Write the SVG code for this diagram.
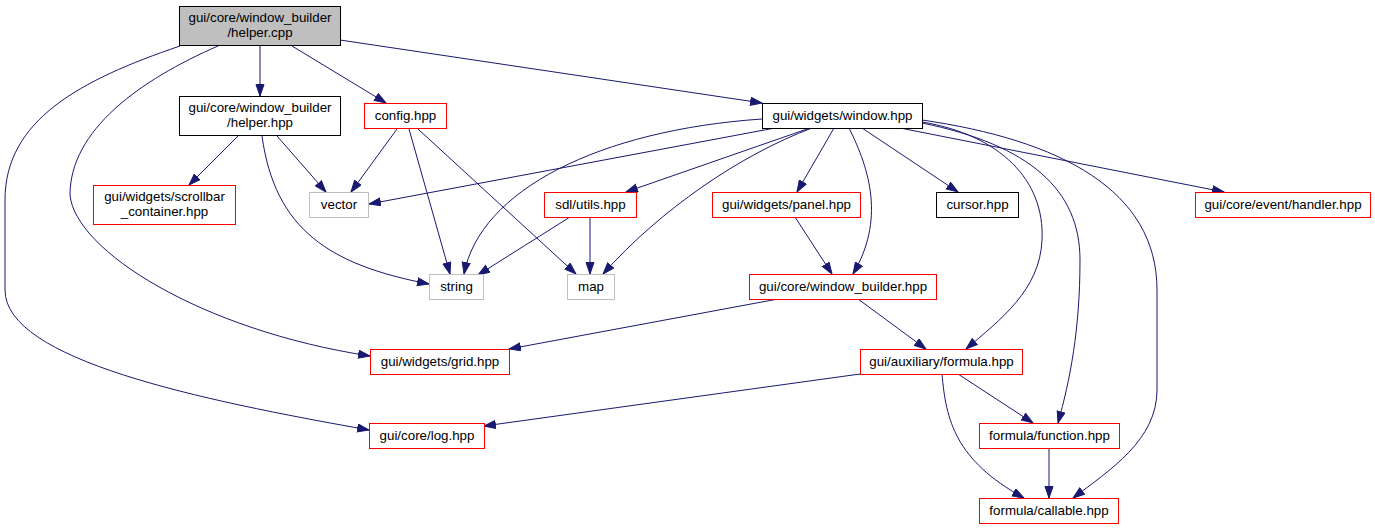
<svg xmlns="http://www.w3.org/2000/svg" width="1375" height="529" viewBox="0 0 1375 529">
<defs>
<marker id="ah" markerUnits="userSpaceOnUse" markerWidth="13" markerHeight="11" refX="12" refY="4.5" orient="auto">
<path d="M0.5,0.5 L12,4.5 L0.5,8.5 z" fill="#191970" stroke="#191970" stroke-width="1"/>
</marker>
</defs>
<style>
.e{fill:none;stroke:#191970;stroke-width:1;marker-end:url(#ah)}
.n rect{fill:#fff;stroke-width:1}
.blk rect{stroke:#000}
.red rect{stroke:#ff0000}
.gry rect{stroke:#bfbfbf}
.cur rect{fill:#bfbfbf;stroke:#000}
text{font-family:"Liberation Sans",Arial,sans-serif;font-size:13.33px;fill:#000;text-anchor:middle}
</style>
<rect width="1375" height="529" fill="#fff"/>
<g id="edges">
<path class="e" d="M260,46 L260,96"/>
<path class="e" d="M292,46 L386,103"/>
<path class="e" d="M340,40 L762,103"/>
<path class="e" d="M218,46 C140,80 70,130 70,195 C75,250 200,330 370,356"/>
<path class="e" d="M180,46 C80,80 5,120 5,200 L5,290 C5,360 200,400 369,430"/>
<path class="e" d="M238,136 L189,185"/>
<path class="e" d="M277,136 L326,192"/>
<path class="e" d="M262,136 C275,230 330,265 429,284"/>
<path class="e" d="M397,129 L351,192"/>
<path class="e" d="M409,129 L450,274"/>
<path class="e" d="M418,129 L576,274"/>
<path class="e" d="M775,128 L369,204"/>
<path class="e" d="M762,119 C600,130 480,190 464,274"/>
<path class="e" d="M810,128 L626,192"/>
<path class="e" d="M812,128 C740,155 660,210 603,274"/>
<path class="e" d="M834,128 L797,192"/>
<path class="e" d="M849,128 C870,170 885,220 853,274"/>
<path class="e" d="M862,128 L958,192"/>
<path class="e" d="M900,128 L1224,192"/>
<path class="e" d="M922,122 C1000,135 1045,180 1042,240 C1040,290 1000,320 966,349"/>
<path class="e" d="M922,123 C1030,145 1080,190 1080,260 C1080,330 1070,380 1058,423"/>
<path class="e" d="M922,120 C1060,140 1157,190 1157,290 L1157,390 C1157,440 1110,470 1073,498"/>
<path class="e" d="M570,217 L478,275"/>
<path class="e" d="M590,217 L590,274"/>
<path class="e" d="M795,217 L832,274"/>
<path class="e" d="M778,299 L509,349"/>
<path class="e" d="M858,299 L926,349"/>
<path class="e" d="M860,374 L484,426"/>
<path class="e" d="M958,374 L1033,423"/>
<path class="e" d="M942,374 C946,420 955,460 1024,498"/>
<path class="e" d="M1049,448 L1049,498"/>
</g>
<g id="helper_cpp" class="n cur"><rect x="179.5" y="6.5" width="161" height="39"/><text x="260" y="22">gui/core/window_builder</text><text x="260" y="37">/helper.cpp</text></g>
<g id="helper_hpp" class="n blk"><rect x="179.5" y="96.5" width="161" height="39"/><text x="260" y="112">gui/core/window_builder</text><text x="260" y="127">/helper.hpp</text></g>
<g id="config_hpp" class="n red"><rect x="364.5" y="103.5" width="82" height="25"/><text x="405.5" y="120">config.hpp</text></g>
<g id="window_hpp" class="n blk"><rect x="762.5" y="103.5" width="160" height="25"/><text x="842.5" y="120">gui/widgets/window.hpp</text></g>
<g id="scrollbar_hpp" class="n red"><rect x="93.5" y="185.5" width="142" height="39"/><text x="164.5" y="201">gui/widgets/scrollbar</text><text x="164.5" y="216">_container.hpp</text></g>
<g id="vector" class="n gry"><rect x="309.5" y="192.5" width="59" height="25"/><text x="339" y="209">vector</text></g>
<g id="string" class="n gry"><rect x="429.5" y="274.5" width="54" height="25"/><text x="456.5" y="291">string</text></g>
<g id="sdl_utils_hpp" class="n red"><rect x="544.5" y="192.5" width="92" height="25"/><text x="590.5" y="209">sdl/utils.hpp</text></g>
<g id="map" class="n gry"><rect x="567.5" y="274.5" width="47" height="25"/><text x="591" y="291">map</text></g>
<g id="panel_hpp" class="n red"><rect x="712.5" y="192.5" width="148" height="25"/><text x="786.5" y="209">gui/widgets/panel.hpp</text></g>
<g id="cursor_hpp" class="n blk"><rect x="936.5" y="192.5" width="82" height="25"/><text x="977.5" y="209">cursor.hpp</text></g>
<g id="handler_hpp" class="n red"><rect x="1195.5" y="192.5" width="175" height="25"/><text x="1283" y="209">gui/core/event/handler.hpp</text></g>
<g id="window_builder_hpp" class="n red"><rect x="749.5" y="274.5" width="187" height="25"/><text x="843" y="291">gui/core/window_builder.hpp</text></g>
<g id="grid_hpp" class="n red"><rect x="370.5" y="349.5" width="139" height="25"/><text x="440" y="366">gui/widgets/grid.hpp</text></g>
<g id="formula_hpp" class="n red"><rect x="860.5" y="349.5" width="162" height="25"/><text x="941.5" y="366">gui/auxiliary/formula.hpp</text></g>
<g id="log_hpp" class="n red"><rect x="369.5" y="423.5" width="115" height="25"/><text x="427" y="440">gui/core/log.hpp</text></g>
<g id="function_hpp" class="n red"><rect x="979.5" y="423.5" width="140" height="25"/><text x="1049.5" y="440">formula/function.hpp</text></g>
<g id="callable_hpp" class="n red"><rect x="979.5" y="498.5" width="139" height="25"/><text x="1049" y="515">formula/callable.hpp</text></g>
</svg>
